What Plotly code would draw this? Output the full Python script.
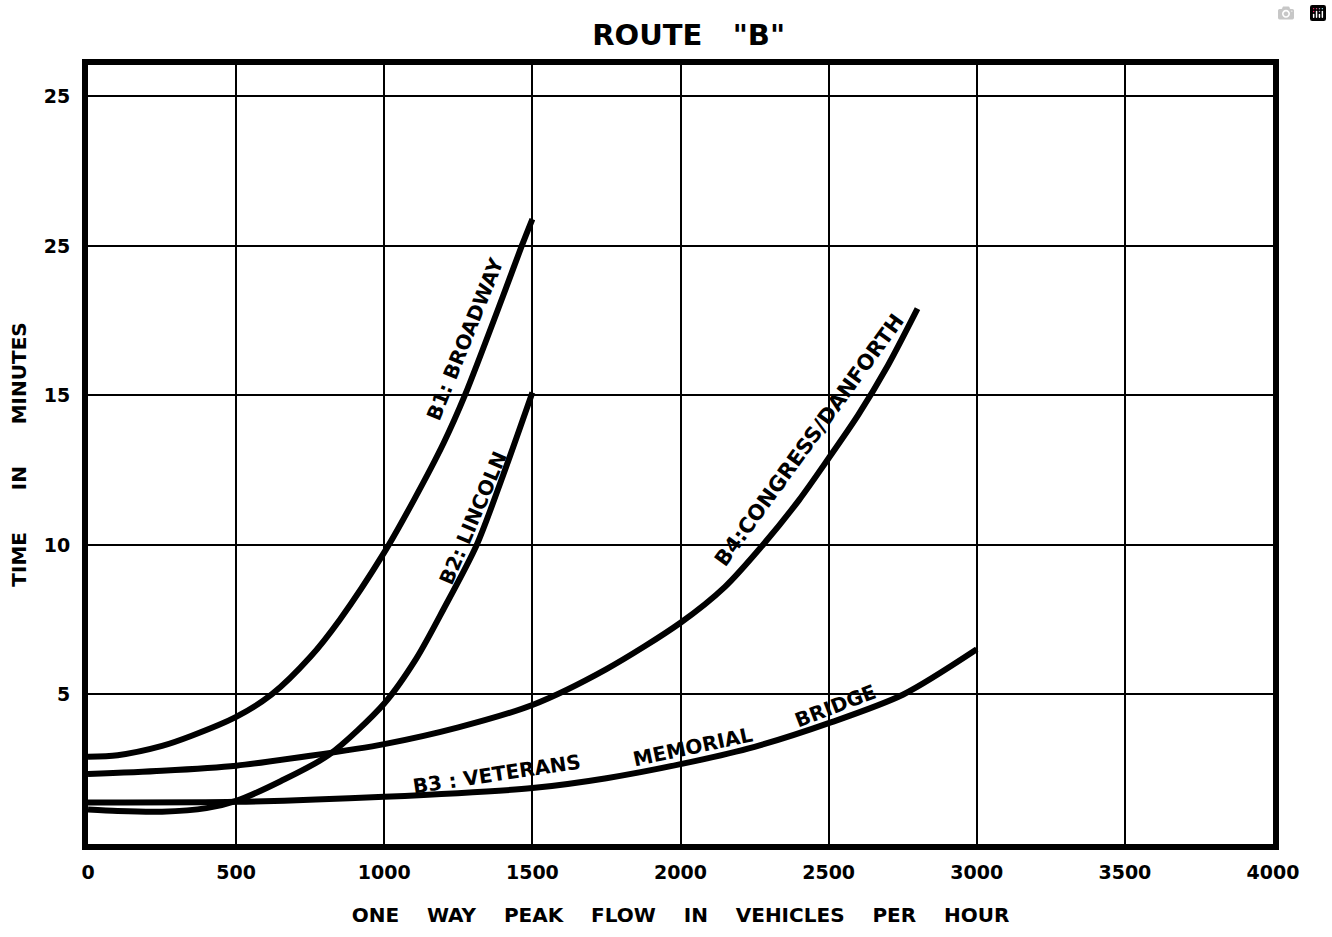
import plotly.graph_objects as go

# ---- data ----
flow_b1 = [0, 100, 250, 350, 500, 620, 750, 850, 1000, 1100, 1200, 1272, 1400, 1464, 1500]
time_b1 = [2.92, 2.97, 3.28, 3.62, 4.25, 5.0, 6.25, 7.5, 9.75, 11.5, 13.4, 15.0, 18.3, 20.0, 20.9]

flow_b2 = [0, 100, 250, 400, 500, 650, 813, 1000, 1108, 1200, 1312, 1400, 1500]
time_b2 = [1.15, 1.1, 1.08, 1.2, 1.44, 2.1, 2.98, 4.7, 6.2, 7.85, 10.0, 12.3, 15.1]

flow_b3 = [0, 500, 1000, 1500, 1750, 2000, 2250, 2500, 2752, 3000]
time_b3 = [1.39, 1.41, 1.58, 1.87, 2.2, 2.67, 3.25, 4.04, 5.0, 6.51]

flow_b4 = [0, 250, 500, 750, 1000, 1250, 1500, 1750, 2000, 2150, 2278, 2400, 2500, 2600, 2700, 2800]
time_b4 = [2.34, 2.45, 2.62, 2.95, 3.34, 3.9, 4.65, 5.85, 7.4, 8.6, 10.0, 11.5, 12.9, 14.35, 16.0, 17.9]

x_ticks = [0, 500, 1000, 1500, 2000, 2500, 3000, 3500, 4000]
y_tickvals = [5, 10, 15, 20, 25]
y_ticktext = ["5", "10", "15", "25", "25"]

FONT = "DejaVu Sans"
NB = "\u00a0"


def f(size):
    return dict(family=FONT, size=size, color="black", weight="bold")


fig = go.Figure()
for xs, ys in [(flow_b1, time_b1), (flow_b2, time_b2), (flow_b3, time_b3), (flow_b4, time_b4)]:
    fig.add_trace(go.Scatter(x=xs, y=ys, mode="lines",
                             line=dict(color="black", width=6, shape="spline", smoothing=0.8),
                             showlegend=False, hoverinfo="skip"))

labels = [
    ("B1:" + NB + "BROADWAY", 1272, 16.9, -68, 20),
    ("B2:" + NB + "LINCOLN", 1300, 10.9, -67, 20),
    ("B4:CONGRESS/DANFORTH", 2436, 13.5, -54, 21),
    ("B3" + NB + ":" + NB + "VETERANS", 1380, 2.33, -8.5, 20),
    ("MEMORIAL", 2041, 3.25, -12, 20),
    ("BRIDGE", 2522, 4.62, -21, 20),
]
for txt, x, y, ang, sz in labels:
    fig.add_annotation(x=x, y=y, text=txt, textangle=ang, showarrow=False,
                       font=f(sz), xanchor="center", yanchor="middle")

fig.update_layout(
    width=1332, height=937,
    margin=dict(l=88, r=59, t=65, b=93),
    paper_bgcolor="white", plot_bgcolor="white",
    title=dict(text="ROUTE" + NB * 3 + '"B"', x=0.517, xanchor="center", y=0.963, yanchor="middle",
               font=f(29)),
    font=dict(family=FONT, color="black"),
)
fig.update_xaxes(range=[0, 4000], tickvals=x_ticks, showgrid=True, gridcolor="black", gridwidth=1.8,
                 showline=True, mirror=True, linecolor="black", linewidth=6, zeroline=False,
                 ticks="", ticklabelstandoff=6, tickfont=f(19),
                 title=dict(text=(NB * 4).join(["ONE", "WAY", "PEAK", "FLOW", "IN", "VEHICLES", "PER", "HOUR"]),
                            font=f(20), standoff=28),
                 fixedrange=True)
fig.update_yaxes(range=[0, 26.05], tickvals=y_tickvals, ticktext=y_ticktext, showgrid=True,
                 gridcolor="black", gridwidth=1.8,
                 showline=True, mirror=True, linecolor="black", linewidth=6, zeroline=False,
                 ticks="", ticklabelstandoff=8, tickfont=f(19),
                 title=dict(text=(NB * 6).join(["TIME", "IN", "MINUTES"]),
                            font=f(20), standoff=14),
                 fixedrange=True)

fig.write_html("out.html", post_script="document.body.style.margin='0';document.body.style.overflow='hidden';")
